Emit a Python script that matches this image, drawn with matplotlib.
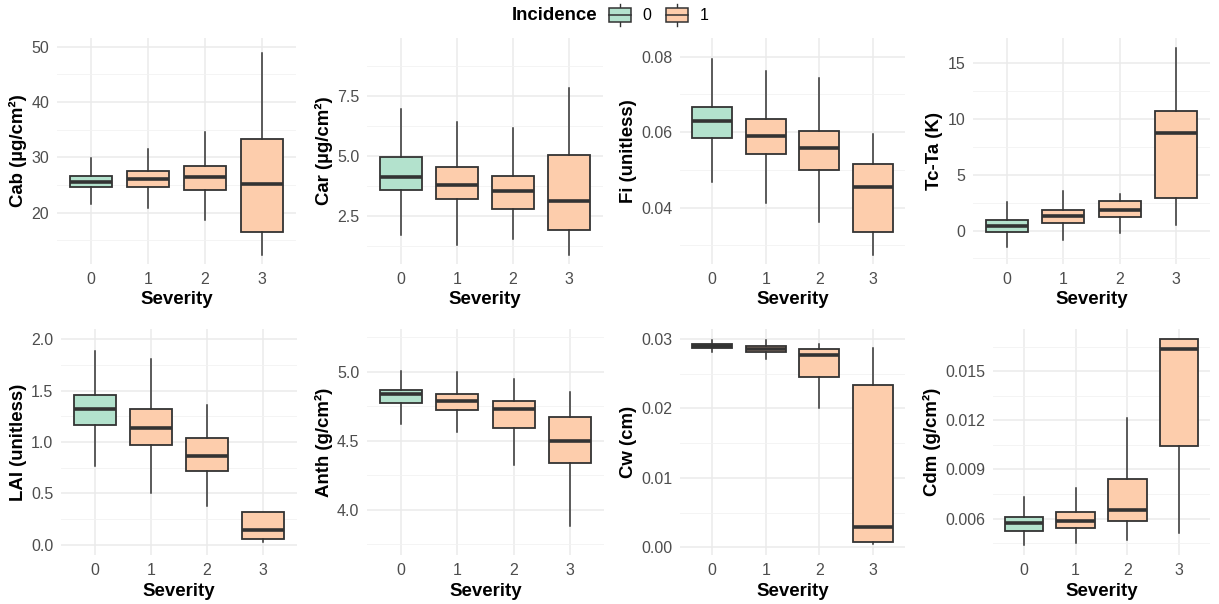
import matplotlib
matplotlib.use("Agg")
import matplotlib.pyplot as plt
from matplotlib.patches import Rectangle, Patch
from matplotlib.lines import Line2D
from matplotlib.legend_handler import HandlerBase
from matplotlib.ticker import FixedLocator, StrMethodFormatter

plt.rcParams['font.family'] = ['Liberation Sans', 'DejaVu Sans']

# ---------------- data ----------------
severity = [0, 1, 2, 3]
incidence = [0, 1, 1, 1]
incidence_levels = ["0", "1"]

cab_low = [21.6, 20.9, 18.7, 12.3]
cab_q1 = [24.7, 24.6, 24.1, 16.5]
cab_med = [25.6, 26.1, 26.4, 25.2]
cab_q3 = [26.7, 27.5, 28.4, 33.4]
cab_high = [29.8, 31.5, 34.6, 48.8]

car_low = [1.72, 1.31, 1.56, 0.89]
car_q1 = [3.56, 3.22, 2.78, 1.92]
car_med = [4.12, 3.78, 3.53, 3.10]
car_q3 = [4.94, 4.52, 4.17, 5.02]
car_high = [6.94, 6.39, 6.17, 7.83]

fi_low = [0.0467, 0.0412, 0.0361, 0.0276]
fi_q1 = [0.0584, 0.0542, 0.0501, 0.0335]
fi_med = [0.0630, 0.0591, 0.0559, 0.0455]
fi_q3 = [0.0667, 0.0634, 0.0602, 0.0515]
fi_high = [0.0793, 0.0761, 0.0742, 0.0596]

tcta_low = [-1.44, -0.84, -0.18, 0.48]
tcta_q1 = [-0.12, 0.66, 1.20, 2.88]
tcta_med = [0.42, 1.26, 1.80, 8.76]
tcta_q3 = [0.96, 1.86, 2.64, 10.68]
tcta_high = [2.58, 3.54, 3.24, 16.32]

lai_low = [0.77, 0.50, 0.38, 0.03]
lai_q1 = [1.17, 0.97, 0.72, 0.06]
lai_med = [1.32, 1.14, 0.86, 0.14]
lai_q3 = [1.46, 1.32, 1.04, 0.32]
lai_high = [1.89, 1.81, 1.36, 0.32]

anth_low = [4.62, 4.56, 4.32, 3.88]
anth_q1 = [4.77, 4.72, 4.59, 4.34]
anth_med = [4.835, 4.79, 4.73, 4.50]
anth_q3 = [4.87, 4.84, 4.79, 4.67]
anth_high = [5.005, 4.995, 4.95, 4.85]

cw_low = [0.0281, 0.0271, 0.0200, 0.0005]
cw_q1 = [0.02865, 0.0281, 0.0246, 0.00077]
cw_med = [0.02894, 0.02855, 0.0277, 0.0030]
cw_q3 = [0.02923, 0.02894, 0.02855, 0.02334]
cw_high = [0.0298, 0.0298, 0.0293, 0.02865]

cdm_low = [0.00440, 0.00449, 0.00469, 0.00514]
cdm_q1 = [0.00522, 0.00539, 0.00584, 0.01042]
cdm_med = [0.00571, 0.00584, 0.00653, 0.01635]
cdm_q3 = [0.00612, 0.00641, 0.00841, 0.01696]
cdm_high = [0.00731, 0.00784, 0.01214, 0.01696]

# ---------------- styling ----------------
FILL = {0: "#B3E2CD", 1: "#FDCDAC"}
EDGE = "#333333"
GRID_MAJOR = "#EBEBEB"
TICK_COL = "#4D4D4D"
W, H = 1219, 604

panels = [
    # label, stats, ylim, major ticks, minor ticks, fmt, (left px, right px, top px, bottom px)
    ("Cab (µg/cm²)", (cab_low, cab_q1, cab_med, cab_q3, cab_high), (10.7, 51.6),
     [20, 30, 40, 50], [15, 25, 35, 45], "{x:.0f}", (57, 296, 38, 264)),
    ("Car (µg/cm²)", (car_low, car_q1, car_med, car_q3, car_high), (0.5, 9.9),
     [2.5, 5.0, 7.5], [1.25, 3.75, 6.25, 8.75], "{x:.1f}", (367, 603, 38, 264)),
    ("Fi (unitless)", (fi_low, fi_q1, fi_med, fi_q3, fi_high), (0.0251, 0.0849),
     [0.04, 0.06, 0.08], [0.03, 0.05, 0.07], "{x:.2f}", (680, 905, 38, 264)),
    ("Tc-Ta (K)", (tcta_low, tcta_q1, tcta_med, tcta_q3, tcta_high), (-3.0, 17.25),
     [0, 5, 10, 15], [-2.5, 2.5, 7.5, 12.5], "{x:.0f}", (973, 1210, 38, 264)),
    ("LAI (unitless)", (lai_low, lai_q1, lai_med, lai_q3, lai_high), (-0.10, 2.10),
     [0.0, 0.5, 1.0, 1.5, 2.0], [0.25, 0.75, 1.25, 1.75], "{x:.1f}", (61, 297, 329, 555)),
    ("Anth (g/cm²)", (anth_low, anth_q1, anth_med, anth_q3, anth_high), (3.67, 5.31),
     [4.0, 4.5, 5.0], [3.75, 4.25, 4.75, 5.25], "{x:.1f}", (367, 604, 329, 555)),
    ("Cw (cm)", (cw_low, cw_q1, cw_med, cw_q3, cw_high), (-0.0011, 0.03145),
     [0.00, 0.01, 0.02, 0.03], [0.005, 0.015, 0.025], "{x:.2f}", (680, 905, 329, 555)),
    ("Cdm (g/cm²)", (cdm_low, cdm_q1, cdm_med, cdm_q3, cdm_high), (0.00377, 0.01758),
     [0.006, 0.009, 0.012, 0.015], [0.0045, 0.0075, 0.0105, 0.0135, 0.0165], "{x:.3f}",
     (993, 1210, 329, 555)),
]

fig = plt.figure(figsize=(W / 100, H / 100), dpi=100)
fig.patch.set_facecolor("white")

for label, stats, ylim, majors, minors, fmt, (lp, rp, tp, bp) in panels:
    ax = fig.add_axes([lp / W, 1 - bp / H, (rp - lp) / W, (bp - tp) / H])
    lo, q1, md, q3, hi = stats
    bstats = [dict(whislo=lo[i], q1=q1[i], med=md[i], q3=q3[i], whishi=hi[i])
              for i in range(len(severity))]
    res = ax.bxp(bstats, positions=severity, widths=0.75, showfliers=False,
                 showcaps=False, patch_artist=True, manage_ticks=False,
                 boxprops=dict(edgecolor=EDGE, linewidth=1.3),
                 whiskerprops=dict(color=EDGE, linewidth=1.1),
                 medianprops=dict(color=EDGE, linewidth=2.6, solid_capstyle="butt"),
                 zorder=3)
    for patch, inc in zip(res["boxes"], incidence):
        patch.set_facecolor(FILL[inc])
    ax.set_xlim(-0.6, 3.6)
    ax.set_ylim(*ylim)
    ax.set_xticks(severity)
    ax.set_xticklabels([str(s) for s in severity])
    ax.yaxis.set_major_locator(FixedLocator(majors))
    ax.yaxis.set_minor_locator(FixedLocator(minors))
    ax.yaxis.set_major_formatter(StrMethodFormatter(fmt))
    ax.grid(True, which="major", color=GRID_MAJOR, linewidth=1.1, zorder=0)
    ax.grid(True, which="minor", axis="y", color="#F2F2F2", linewidth=0.6, zorder=0)
    ax.set_axisbelow(True)
    for sp in ax.spines.values():
        sp.set_visible(False)
    ax.tick_params(which="both", length=0)
    ax.tick_params(axis="y", labelsize=11.5, labelcolor=TICK_COL, pad=5.5)
    ax.tick_params(axis="x", labelsize=11.5, labelcolor=TICK_COL, pad=6)
    ax.set_xlabel("Severity", fontsize=13.4, fontweight="bold", labelpad=3)
    ax.set_ylabel(label, fontsize=13.4, fontweight="bold", labelpad=3)
    ax.set_facecolor("white")


class BoxKeyHandler(HandlerBase):
    def create_artists(self, legend, orig_handle, xdescent, ydescent, width, height,
                       fontsize, trans):
        x0, y0 = -xdescent, -ydescent
        fc = orig_handle.get_facecolor()
        b0, b1 = y0 + 0.2 * height, y0 + 0.8 * height
        rect = Rectangle((x0, b0), width, b1 - b0, facecolor=fc, edgecolor=EDGE,
                         linewidth=1.1, transform=trans)
        med = Line2D([x0, x0 + width], [y0 + 0.5 * height] * 2, color=EDGE,
                     linewidth=1.1, transform=trans)
        wl = Line2D([x0 + width / 2] * 2, [y0, b0], color=EDGE, linewidth=1.0,
                    transform=trans)
        wh = Line2D([x0 + width / 2] * 2, [b1, y0 + height], color=EDGE, linewidth=1.0,
                    transform=trans)
        return [wl, wh, rect, med]


handles = [Patch(facecolor=FILL[int(k)]) for k in incidence_levels]
fig.text(597 / W, 1 - 15 / H, "Incidence", ha="right", va="center",
         fontsize=13.4, fontweight="bold")
fig.legend(handles, incidence_levels, loc="center left",
           bbox_to_anchor=(609 / W, 1 - 15 / H), ncol=2, frameon=False,
           borderpad=0, borderaxespad=0, handlelength=1.4, handleheight=1.83,
           handletextpad=0.7, columnspacing=0.9, fontsize=11.5,
           handler_map={Patch: BoxKeyHandler()})

fig.savefig("out.png", dpi=100, facecolor="white")
